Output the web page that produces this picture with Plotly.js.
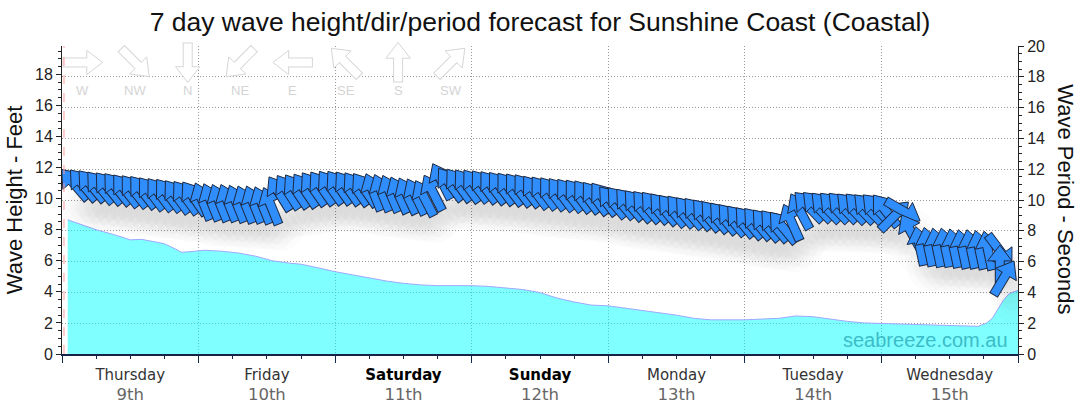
<!DOCTYPE html>
<html><head><meta charset="utf-8">
<script src="https://cdn.plot.ly/plotly-3.0.1.min.js"></script>
<style>html,body{margin:0;padding:0;background:#fff}#chart{width:1080px;height:414px}</style>
</head><body><div id="chart"></div>
<script>
// ---------------- data ----------------
const days  = ['Thursday','Friday','Saturday','Sunday','Monday','Tuesday','Wednesday'];
const dates = ['9th','10th','11th','12th','13th','14th','15th'];
const weekendDays = ['Saturday','Sunday'];

// wave height (feet) vs hours from start of Thursday
const heightHours = [1,3,6,9,12,14,16,18,20,21,23,25,28,31,34,37,40,42,45,48,51,54,57,60,63,66,69,72,75,78,81,84,87,90,93,96,99,102,105,108,111,114,117,120,123,126,129,132,135,138,141,144,147,150,153,156,159,161,162.5,163.5,164.5,165.5,166.5,168];
const heightFeet  = [8.64,8.4,8.0,7.7,7.35,7.38,7.25,7.1,6.75,6.55,6.6,6.68,6.62,6.5,6.3,6.0,5.85,5.78,5.55,5.3,5.1,4.9,4.7,4.55,4.45,4.4,4.4,4.4,4.35,4.25,4.15,3.95,3.6,3.35,3.15,3.1,2.95,2.8,2.65,2.5,2.3,2.2,2.2,2.2,2.25,2.3,2.45,2.4,2.25,2.1,2.0,1.97,1.95,1.92,1.88,1.85,1.8,1.78,2.0,2.3,2.9,3.5,3.9,4.1];

// wave period (s) and direction (deg, coming from) vs hours
const arrowHours = [2.25,3.75,5.25,6.75,8.25,9.75,11.25,12.75,14.25,15.75,17.25,18.75,20.25,21.75,23.25,
  24.75,26.25,27.75,29.25,30.75,32.25,33.75,35.25,36.75,38.25,39.75,41.25,42.75,44.25,45.75,47.25,
  48.75,50.25,51.75,53.25,54.75,56.25,57.75,59.25,60.75,62.25,63.75,65.25,66.75,68.25,69.75,71.25,
  72.75,74.25,75.75,77.25,78.75,80.25,81.75,83.25,84.75,86.25,87.75,89.25,90.75,92.25,93.75,95.25,
  96.75,98.25,99.75,101.25,102.75,104.25,105.75,107.25,108.75,110.25,111.75,113.25,114.75,116.25,117.75,119.25,
  120.75,122.25,123.75,125.25,126.75,128.25,129.75,131.25,132.75,134.25,135.75,137.25,138.75,140.25,141.75,143.25,
  144.75,146.25,147.75,149.25,150.75,152.25,153.75,155.25,156.75,158.25,159.75,161.25,162.75,
  164.8,164.8,165.5,168.3];
const periodSec = [11.0,10.95,10.9,10.8,10.75,10.7,10.6,10.55,10.5,10.4,10.35,10.3,10.2,10.15,10.1,
  9.9,9.85,9.8,9.8,9.75,9.7,9.7,9.65,9.6,10.4,10.5,10.55,10.6,10.7,10.75,10.8,
  10.8,10.75,10.7,10.65,10.5,10.45,10.4,10.3,10.25,10.2,10.1,10.45,11.2,11.0,10.95,10.9,
  10.9,10.85,10.8,10.75,10.7,10.65,10.6,10.5,10.45,10.4,10.35,10.3,10.25,10.2,10.1,10.05,
  9.85,9.8,9.7,9.6,9.55,9.5,9.4,9.3,9.25,9.15,9.1,9.0,8.9,8.8,8.7,8.6,
  8.5,8.45,8.35,8.3,8.2,8.53,9.25,9.55,9.55,9.5,9.5,9.5,9.45,9.45,9.4,9.4,
  9.3,8.95,9.3,7.9,7.0,6.95,6.9,6.9,6.85,6.8,6.8,6.75,6.7,
  6.71,5.77,4.93,5.1];
const dirDeg = [139,140,140,141,141,141,142,142,142,143,143,143,144,144,145,
  158,158,158,158,158,158,158,158,158,148,147,146,146,145,145,145,
  145,145,145,145,158,158,157,156,155,154,153,153,153,144,144,144,
  143,143,143,143,143,143,143,143,143,143,143,143,143,143,143,143,
  140,140,140,140,140,140,140,140,140,140,140,140,140,140,140,140,
  140,140,140,140,140,156,152,136,136,136,136,136,136,136,136,136,
  142,225,300,151,168,168,168,168,168,168,168,168,168,
  323,180,211,200];

// compass key (direction the waves come from)
const compassLabels = ['W','NW','N','NE','E','SE','S','SW'];
const compassDirs   = [270,315,0,45,90,135,180,225];
const nowHour = 0.35;

// ---------------- style / geometry ----------------
const FONT = 'Liberation Sans, Arial, sans-serif';
const PLOT_L = 62, PLOT_R = 1018, PLOT_T = 45.5, PLOT_B = 354;
const X_RANGE = [0, 168];
const PX_PER_HOUR = (PLOT_R - PLOT_L) / (X_RANGE[1] - X_RANGE[0]);
const Y2_RANGE = [0, 20];
const PX_PER_SEC = (PLOT_B - PLOT_T) / (Y2_RANGE[1] - Y2_RANGE[0]);
const ARROW_BLUE = '#2f8dfc', ARROW_EDGE = '#1d2840';
const GRID_DASH = '1px,2px';

// arrow geometry (px): total length 40 centred on the point
const HEAD_R = 10.5, HEAD_STAND = 9.5;
const SHAFT_SIZE = 17.86, SHAFT_W = 10;

function arrowTrace(xs, ys, dirs, fill, edge) {
  const X=[],Y=[],sym=[],size=[],ang=[],stand=[],col=[],lcol=[],lw=[];
  function push(x,y,s,sz,a,so,c,lc,w){X.push(x);Y.push(y);sym.push(s);size.push(sz);ang.push(a);stand.push(so);col.push(c);lcol.push(lc);lw.push(w);}
  for (let k = 0; k < xs.length; k++) {
    const a = (dirs[k] + 180) % 360;          // bearing the arrow points to
    push(xs[k], ys[k], 'line-ns', SHAFT_SIZE, a, 7.5, edge, edge, SHAFT_W);                // shaft outline
    push(xs[k], ys[k], 'triangle-down', 2*HEAD_R, (a+180)%360, HEAD_STAND, fill, edge, 1); // head
    push(xs[k], ys[k], 'line-ns', SHAFT_SIZE, a, 6.5, fill, fill, SHAFT_W-2);              // shaft fill
  }
  return {type:'scatter', mode:'markers', x:X, y:Y, xaxis:'x', yaxis:'y2',
    cliponaxis:false, hoverinfo:'skip', showlegend:false,
    marker:{symbol:sym, size:size, angle:ang, standoff:stand, color:col, opacity:1,
            line:{color:lcol, width:lw}}};
}

const traces = [];

// wave height area
traces.push({type:'scatter', mode:'lines', x:heightHours, y:heightFeet, xaxis:'x', yaxis:'y',
  fill:'tozeroy', fillcolor:'rgba(0,255,255,0.5)', line:{color:'#a0a8ff', width:1},
  hoverinfo:'skip', showlegend:false});

// soft shadow under the arrows
[[46,'rgba(40,40,40,0.010)'],[34,'rgba(40,40,40,0.014)'],[22,'rgba(40,40,40,0.016)']].forEach(([sz,c]) => {
  traces.push({type:'scatter', mode:'markers', x:arrowHours, y:periodSec, xaxis:'x', yaxis:'y2',
    cliponaxis:true, hoverinfo:'skip', showlegend:false,
    marker:{symbol:'circle', size:sz, color:c, line:{width:0}, angle:-25, standoff:24}});
});

// direction arrows
traces.push(arrowTrace(arrowHours, periodSec, dirDeg, ARROW_BLUE, ARROW_EDGE));

// compass key (top-left)
const KEY_X0 = 82.5, KEY_DX = 52.6, KEY_Y = 62, KEY_LABEL_Y = 90;
const keyX = compassLabels.map((_, k) => (KEY_X0 + k*KEY_DX - PLOT_L) / PX_PER_HOUR);
const keyY = compassLabels.map(() => (PLOT_B - KEY_Y) / PX_PER_SEC);
traces.push(arrowTrace(keyX, keyY, compassDirs, '#ffffff', '#d6d6d6'));

// dummy trace to activate tick axis
traces.push({type:'scatter', mode:'markers', x:[0], y:[0], xaxis:'x2', yaxis:'y',
  marker:{opacity:0}, hoverinfo:'skip', showlegend:false});

const annotations = compassLabels.map((lab, k) => ({
  text: lab, xref:'x', yref:'y2', x: keyX[k], y: (PLOT_B - KEY_LABEL_Y) / PX_PER_SEC,
  showarrow:false, font:{family:FONT, size:13, color:'#d4d4d4'}, xanchor:'center', yanchor:'middle'
}));
annotations.push({text:'Wave Height - Feet', xref:'paper', yref:'paper',
  x:(14 - PLOT_L)/(PLOT_R-PLOT_L), y:(PLOT_B-200)/(PLOT_B-PLOT_T), textangle:-90, showarrow:false,
  xanchor:'center', yanchor:'middle', font:{family:FONT, size:22, color:'#111'}});
annotations.push({text:'Wave Period - Seconds', xref:'paper', yref:'paper',
  x:(1066 - PLOT_L)/(PLOT_R-PLOT_L), y:(PLOT_B-199)/(PLOT_B-PLOT_T), textangle:90, showarrow:false,
  xanchor:'center', yanchor:'middle', font:{family:FONT, size:22, color:'#111'}});
annotations.push({text:'seabreeze.com.au', xref:'paper', yref:'paper',
  x:(1010 - PLOT_L)/(PLOT_R-PLOT_L), y:(PLOT_B-340)/(PLOT_B-PLOT_T), showarrow:false,
  xanchor:'right', yanchor:'middle', font:{family:FONT, size:20, color:'#3cbcc8'}});

const tickText = days.map((d, i) => {
  const name = weekendDays.includes(d) ? `<b><span style="color:#000">${d}</span></b>` : `<span style="color:#333">${d}</span>`;
  return `${name}<br><span style="color:#666;font-size:16.5px">${dates[i]}</span>`;
});

const AXIS_DARK = '#15244a';
const layout = {
  width:1080, height:414,
  margin:{l:PLOT_L, r:1080-PLOT_R, t:PLOT_T, b:414-PLOT_B, pad:0},
  paper_bgcolor:'#fff', plot_bgcolor:'#fff',
  showlegend:false,
  title:{text:'7 day wave height/dir/period forecast for Sunshine Coast (Coastal)',
    x:0.5, xanchor:'center', xref:'container', y:1-22/414, yref:'container', yanchor:'middle',
    font:{family:FONT, size:26.5, color:'#111'}},
  xaxis:{range:X_RANGE, tickmode:'array', tickvals:days.map((_, i) => i*24 + 12), ticktext:tickText,
    ticks:'', showgrid:false, zeroline:false, showline:true, linecolor:AXIS_DARK, linewidth:2,
    tickfont:{family:'DejaVu Sans, sans-serif', size:15, color:'#333'}, ticklabelstandoff:6},
  xaxis2:{range:X_RANGE, overlaying:'x', anchor:'y', side:'bottom', tick0:0, dtick:24,
    ticks:'outside', ticklen:8, tickcolor:AXIS_DARK, tickwidth:1, showticklabels:false,
    showgrid:true, griddash:GRID_DASH, gridcolor:'#999', gridwidth:1, zeroline:false, showline:false,
    minor:{dtick:6, ticks:'outside', ticklen:4, tickcolor:AXIS_DARK, showgrid:false}},
  yaxis:{range:[0, 19.83], dtick:2, tick0:0, ticks:'outside', ticklen:5, tickcolor:'#222',
    showline:true, linecolor:'#222', linewidth:1, showgrid:false, zeroline:false,
    minor:{dtick:0.5, ticks:'outside', ticklen:3, tickcolor:'#222', showgrid:false},
    tickfont:{family:FONT, size:16, color:'#222'}},
  yaxis2:{range:Y2_RANGE, overlaying:'y', side:'right', anchor:'x', dtick:2, tick0:0,
    ticks:'outside', ticklen:5, tickcolor:'#222', showline:true, linecolor:'#222', linewidth:1,
    showgrid:true, griddash:GRID_DASH, gridcolor:'#999', gridwidth:1, zeroline:false,
    minor:{dtick:0.5, ticks:'outside', ticklen:3, tickcolor:'#222', showgrid:false},
    tickfont:{family:FONT, size:16, color:'#222'}},
  shapes:[{type:'line', xref:'x', yref:'paper', x0:nowHour, x1:nowHour, y0:0, y1:1,
    line:{color:'#ff9a9a', width:1, dash:'dash'}}],
  annotations:annotations
};

Plotly.newPlot('chart', traces, layout, {staticPlot:true, displayModeBar:false});
</script></body></html>
